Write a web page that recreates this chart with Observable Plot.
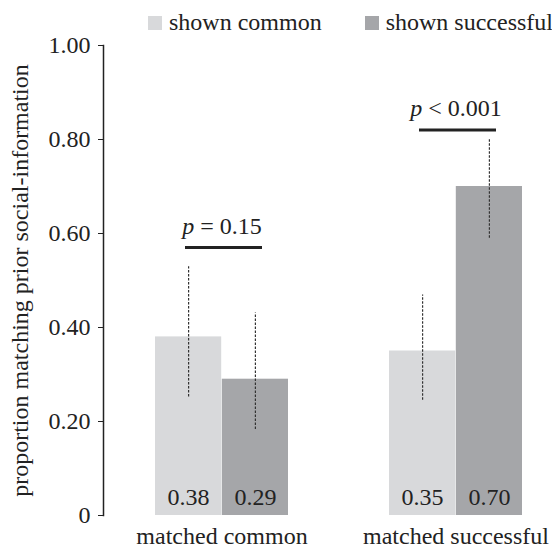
<!DOCTYPE html>
<html><head><meta charset="utf-8">
<script src="https://cdn.jsdelivr.net/npm/d3@7"></script>
<script src="https://cdn.jsdelivr.net/npm/@observablehq/plot@0.6"></script>
<style>
body{margin:0;background:#fff;}
#wrap{position:relative;width:552px;height:548px;overflow:hidden;font-family:'Liberation Serif','Times New Roman',Times,serif;}
#legend{position:absolute;left:148px;top:6px;width:420px;white-space:nowrap;}
.lg-swatches{margin:0 !important;flex-wrap:nowrap !important;}
.lg-swatch{margin-right:43px !important;}
.lg-swatch > svg{margin-right:7px !important;}
</style></head><body><div id="wrap"><div id="legend"></div></div>
<script>
const groups = ["matched common", "matched successful"];
const series = ["shown common", "shown successful"];
const colors = ["#d8d9db", "#a5a6a9"];
const shownCommon = [0.38, 0.35];
const shownSuccessful = [0.29, 0.70];
const ciLowCommon = [0.252, 0.245];
const ciHighCommon = [0.529, 0.469];
const ciLowSuccessful = [0.183, 0.59];
const ciHighSuccessful = [0.431, 0.80];
const pLabels = ["p = 0.15", "p < 0.001"];
const pLineY = [0.57, 0.82];
const yTicks = [0, 0.2, 0.4, 0.6, 0.8, 1.0];
const yTickLabels = ["0", "0.20", "0.40", "0.60", "0.80", "1.00"];
const yLabel = "proportion matching prior social-information";

const common = groups.map((g, i) => ({group: g, value: shownCommon[i], lo: ciLowCommon[i], hi: ciHighCommon[i]}));
const successful = groups.map((g, i) => ({group: g, value: shownSuccessful[i], lo: ciLowSuccessful[i], hi: ciHighSuccessful[i]}));
const pRows = groups.map((g, i) => ({group: g, label: pLabels[i], y: pLineY[i]}));

const half = 66.8;
const ink = "#222";
const font = "'Liberation Serif', 'Times New Roman', Times, serif";

const plot = Plot.plot({
  width: 552,
  height: 548,
  marginLeft: 103,
  marginRight: 29,
  marginTop: 45,
  marginBottom: 33,
  style: {fontFamily: font, fontSize: "24px", color: ink, background: "#fff"},
  x: {domain: groups, range: [155, 523], paddingInner: 0.43, paddingOuter: 0},
  y: {domain: [0, 1]},
  marks: [
    Plot.barY(common, {x: "group", y: "value", fill: colors[0], insetRight: half}),
    Plot.barY(successful, {x: "group", y: "value", fill: colors[1], insetLeft: half}),
    Plot.ruleX(common, {x: "group", y1: "lo", y2: "hi", dx: -half / 2, stroke: "#333", strokeWidth: 1.2, strokeDasharray: "2.5,1.5"}),
    Plot.ruleX(successful, {x: "group", y1: "lo", y2: "hi", dx: half / 2, stroke: "#333", strokeWidth: 1.2, strokeDasharray: "2.5,1.5"}),
    Plot.text(common, {x: "group", y: () => 0, text: d => d.value.toFixed(2), dx: -half / 2, dy: -11, lineAnchor: "bottom", fontSize: 24, fill: ink}),
    Plot.text(successful, {x: "group", y: () => 0, text: d => d.value.toFixed(2), dx: half / 2, dy: -11, lineAnchor: "bottom", fontSize: 24, fill: ink}),
    Plot.tickY(pRows, {x: "group", y: "y", insetLeft: 30, insetRight: 26, stroke: ink, strokeWidth: 3}),
    Plot.text(pRows, {x: "group", y: "y", text: "label", dy: -14, lineAnchor: "bottom", fontSize: 24, fill: ink}),
    Plot.frame({anchor: "left", stroke: ink, strokeWidth: 1.5}),
    Plot.axisY({ticks: yTicks, tickFormat: d => yTickLabels[yTicks.indexOf(d)], tickSize: 5, tickPadding: 8, fontSize: 24, stroke: ink, fill: ink,
      label: yLabel, labelAnchor: "center", labelOffset: 93, labelArrow: "none"}),
    Plot.axisX({tickSize: 0, tickPadding: 11, fontSize: 24, fill: ink, label: null})
  ]
});

d3.select(plot).selectAll("text").each(function () {
  const t = this.textContent;
  if (t.startsWith("p ") && this.childElementCount === 0) {
    const rest = t.slice(1);
    this.textContent = "";
    d3.select(this).append("tspan").attr("font-style", "italic").text("p");
    d3.select(this).append("tspan").text(rest);
  }
});

document.getElementById("wrap").appendChild(plot);

const legend = Plot.legend({
  color: {domain: series, range: colors},
  legend: "swatches",
  swatchSize: 14,
  className: "lg",
  style: {fontFamily: font, fontSize: "24px", color: ink}
});
document.getElementById("legend").appendChild(legend);
</script></body></html>
